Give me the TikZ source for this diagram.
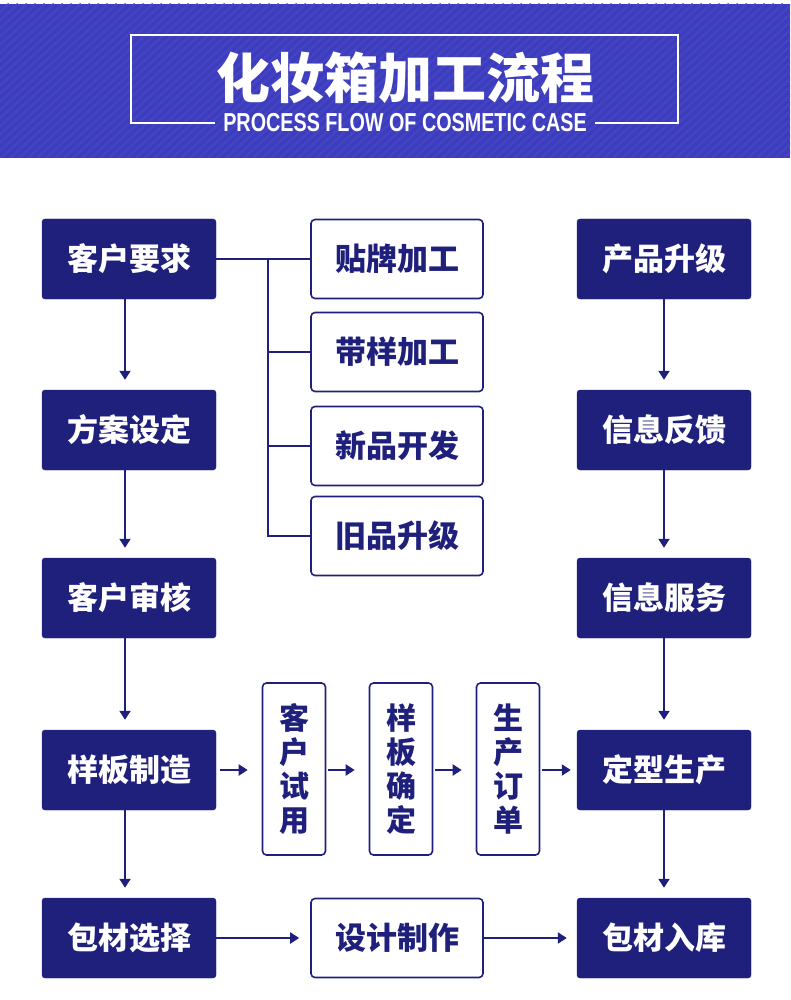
\documentclass[tikz,border=0pt]{standalone}
\usepackage{fontspec}
\usepackage{tikz}
\usepackage{xcolor}
\usetikzlibrary{positioning,arrows.meta}

\newfontfamily\cjk{Noto Sans CJK SC}
\newfontfamily\subfont{Liberation Sans}[FakeStretch=0.76]

\definecolor{navy}{HTML}{1F1F7C}
\definecolor{bandblue}{HTML}{3C3CBE}
\definecolor{stripeblue}{HTML}{4444C3}

\begin{document}
\begin{tikzpicture}[
    x=1pt, y=-1pt,
    darkbox/.style={
        rectangle,
        draw=navy,
        fill=navy,
        minimum width=174pt,
        minimum height=80pt,
        text=white,
        font=\cjk\bfseries\fontsize{31}{34}\selectfont,
        rounded corners=3pt
    },
    lightbox/.style={
        rectangle,
        draw=navy,
        line width=1.6pt,
        fill=white,
        minimum width=172pt,
        minimum height=79pt,
        text=navy,
        font=\cjk\bfseries\fontsize{31}{34}\selectfont,
        rounded corners=4pt
    },
    tallbox/.style={
        lightbox,
        minimum width=63pt,
        minimum height=172pt,
        align=center,
        font=\cjk\bfseries\fontsize{30}{34}\selectfont
    },
    link/.style={navy, line width=2pt},
    flow/.style={link, -{Triangle[length=9pt,width=11pt]}}
]
    \useasboundingbox (0,0) rectangle (790,1000);

    % --- HEADER ---
    \fill [bandblue] (0,4) rectangle (790,158);
    \begin{scope}
        \clip (0,4) rectangle (790,158);
        \foreach \i in {0,9,...,990}
            \draw [stripeblue, line width=2.5pt] (\i-170,158) -- (\i,4);
    \end{scope}

    \node [text=white, font=\cjk\bfseries\fontsize{54}{60}\selectfont] (title) at (405,78) {化妆箱加工流程};
    \node [text=white, font=\subfont\bfseries\fontsize{26}{28}\selectfont, inner sep=8pt] (subtitle) at (405,123) {PROCESS FLOW OF COSMETIC CASE};
    \draw [white, line width=1.5pt] (subtitle.west) -- (131,123) |- (678,35) |- (subtitle.east);

    % --- LEFT COLUMN ---
    \node [darkbox] (request) at (129,259) {客户要求};
    \node [darkbox] (scheme) at (129,430) {方案设定};
    \node [darkbox] (review) at (129,598) {客户审核};
    \node [darkbox] (sampling) at (129,770) {样板制造};
    \node [darkbox] (material) at (129,938) {包材选择};

    % --- RIGHT COLUMN ---
    \node [darkbox] (upgrade) at (664,259) {产品升级};
    \node [darkbox] (feedback) at (664,430) {信息反馈};
    \node [darkbox] (service) at (664,598) {信息服务};
    \node [darkbox] (production) at (664,770) {定型生产};
    \node [darkbox] (storage) at (664,938) {包材入库};

    % --- MIDDLE ---
    \node [lightbox] (oem) at (397,259) {贴牌加工};
    \node [lightbox] (withsample) at (397,352) {带样加工};
    \node [lightbox] (newproduct) at (397,446) {新品开发};
    \node [lightbox] (oldproduct) at (397,536) {旧品升级};
    \node [lightbox] (design) at (397,938) {设计制作};

    \node [tallbox] (trial) at (294,769) {客\\户\\试\\用};
    \node [tallbox] (confirm) at (401,769) {样\\板\\确\\定};
    \node [tallbox] (order) at (508,769) {生\\产\\订\\单};

    % --- BRANCHES ---
    \coordinate (fork) at (268,259);
    \draw [link] (request.east) -- (oem.west);
    \draw [link] (fork) |- (withsample.west);
    \draw [link] (fork) |- (newproduct.west);
    \draw [link] (fork) |- (oldproduct.west);

    % --- ARROWS ---
    % left column
    \draw [flow, shorten >=10pt] ([xshift=-4pt]request.south) -- ([xshift=-4pt]scheme.north);
    \draw [flow, shorten >=10pt] ([xshift=-4pt]scheme.south) -- ([xshift=-4pt]review.north);
    \draw [flow, shorten >=10pt] ([xshift=-4pt]review.south) -- ([xshift=-4pt]sampling.north);
    \draw [flow, shorten >=10pt] ([xshift=-4pt]sampling.south) -- ([xshift=-4pt]material.north);

    % right column
    \draw [flow, shorten >=10pt] (upgrade.south) -- (feedback.north);
    \draw [flow, shorten >=10pt] (feedback.south) -- (service.north);
    \draw [flow, shorten >=10pt] (service.south) -- (production.north);
    \draw [flow, shorten >=10pt] (production.south) -- (storage.north);

    % sample row
    \draw [flow, shorten <=4pt, shorten >=14pt] (sampling.east) -- (sampling.east -| trial.west);
    \draw [flow, shorten <=2pt, shorten >=14pt] (sampling.east -| trial.east) -- (sampling.east -| confirm.west);
    \draw [flow, shorten <=2pt, shorten >=14pt] (sampling.east -| confirm.east) -- (sampling.east -| order.west);
    \draw [flow, shorten <=2pt, shorten >=6pt] (sampling.east -| order.east) -- (production.west);

    % bottom row
    \draw [flow, shorten >=11pt] (material.east) -- (design.west);
    \draw [flow, shorten >=10pt] (design.east) -- (storage.west);

\end{tikzpicture}
\end{document}
